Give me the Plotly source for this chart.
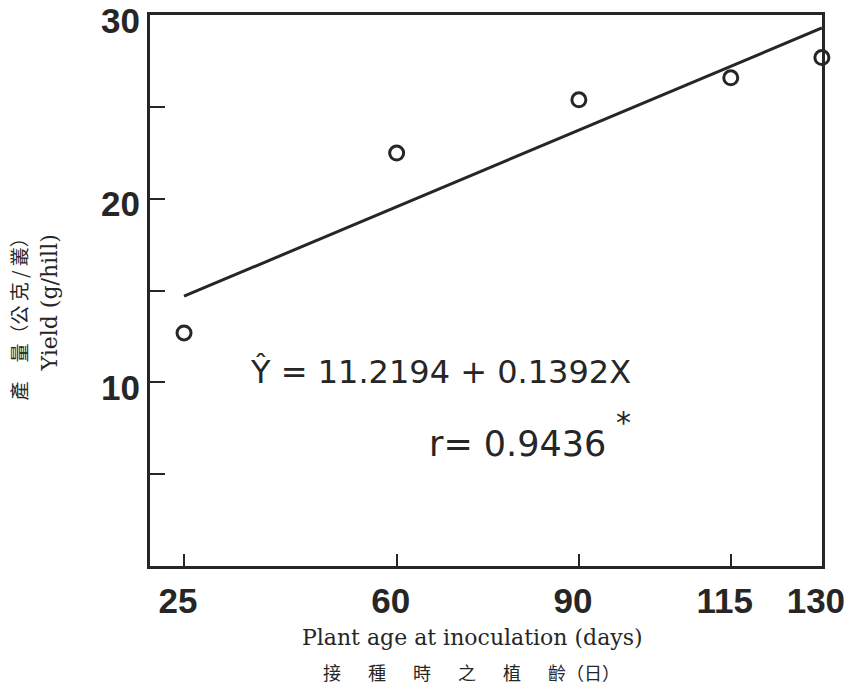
import plotly.graph_objects as go

# Data
ages = [25, 60, 90, 115, 130]
yields = [12.7, 22.5, 25.4, 26.6, 27.7]
intercept = 11.2194
slope = 0.1392
line_x = [25, 130]
line_y = [intercept + slope * v for v in line_x]

x_ticks = [25, 60, 90, 115, 130]
x_ticklabels = ["25", "60", "90", "115", "130"]
y_ticks = [5, 10, 15, 20, 25, 30]
y_ticklabels = ["", "10", "", "20", "", "30"]

ink = "#262626"
num_font = dict(family="Liberation Sans, Arial, sans-serif", size=35, color=ink, weight="bold")

fig = go.Figure()
fig.add_trace(go.Scatter(x=line_x, y=line_y, mode="lines",
                         line=dict(color=ink, width=3), showlegend=False,
                         hoverinfo="skip", cliponaxis=False))
fig.add_trace(go.Scatter(x=ages, y=yields, mode="markers",
                         marker=dict(symbol="circle-open", size=14,
                                     color=ink, line=dict(width=3, color=ink)),
                         showlegend=False, cliponaxis=False))

fig.update_xaxes(range=[19.4, 130.02], tickvals=x_ticks, ticktext=x_ticklabels,
                 showline=True, linewidth=3, linecolor=ink, mirror=True,
                 ticks="inside", ticklen=12, tickwidth=2, tickcolor=ink,
                 showgrid=False, zeroline=False, tickfont=num_font,
                 automargin=False, ticklabelstandoff=2, ticklabelshift=-6,
                 ticklabeloverflow="allow")
fig.update_yaxes(range=[0, 30.02], tickvals=y_ticks, ticktext=y_ticklabels,
                 showline=True, linewidth=3, linecolor=ink, mirror=True,
                 ticks="inside", ticklen=15, tickwidth=2, tickcolor=ink,
                 showgrid=False, zeroline=False, tickfont=num_font,
                 automargin=False, ticklabelstandoff=0, ticklabelshift=5,
                 ticklabeloverflow="allow")

serif = "DejaVu Serif, Liberation Serif, serif"
cjk = "Noto Sans CJK TC, Noto Sans CJK SC, sans-serif"
eq_font = "DejaVu Sans, sans-serif"

annotations = [
    dict(x=35.5, y=10.55, xref="x", yref="y", xanchor="left", yanchor="middle",
         text="Ŷ = 11.2194 + 0.1392X", showarrow=False,
         font=dict(family=eq_font, size=32, color=ink)),
    dict(x=65.0, y=6.64, xref="x", yref="y", xanchor="left", yanchor="middle",
         text="r= 0.9436", showarrow=False,
         font=dict(family=eq_font, size=35, color=ink)),
    dict(x=95.8, y=7.8, xref="x", yref="y", xanchor="left", yanchor="middle",
         text="*", showarrow=False,
         font=dict(family=eq_font, size=30, color=ink)),
    dict(x=-0.149, y=0.478, xref="paper", yref="paper", xanchor="center", yanchor="middle",
         text="Yield (g/hill)", textangle=-90, showarrow=False,
         font=dict(family=serif, size=22, color=ink)),
    dict(x=-0.196, y=0.457, xref="paper", yref="paper", xanchor="center", yanchor="middle",
         text="產\u3000量（公 克 / 叢）", textangle=-90, showarrow=False,
         font=dict(family=cjk, size=19, color=ink)),
    dict(x=0.48, y=-0.13, xref="paper", yref="paper", xanchor="center", yanchor="middle",
         text="Plant age at inoculation (days)", showarrow=False,
         font=dict(family=serif, size=22, color=ink)),
    dict(x=0.478, y=-0.193, xref="paper", yref="paper", xanchor="center", yanchor="middle",
         text="接\u3000\u2002種\u3000\u2002時\u3000\u2002之\u3000\u2002植\u3000\u2002齡（日）",
         showarrow=False, font=dict(family=cjk, size=18, color=ink)),
]

fig.update_layout(width=845, height=690,
                  margin=dict(l=150, r=23, t=15, b=124),
                  paper_bgcolor="white", plot_bgcolor="white",
                  annotations=annotations)

# remove the page's default body margin so the figure fills the window exactly
fig.write_html("out.html", config={"displayModeBar": False},
               post_script="document.body.style.margin='0px';")
